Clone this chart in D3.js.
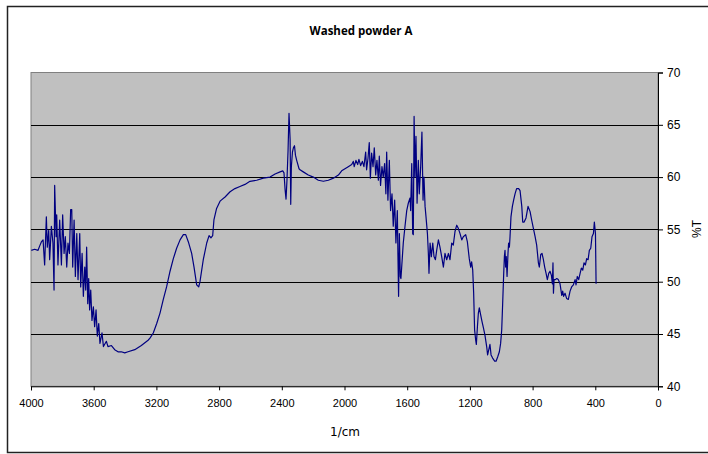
<!DOCTYPE html>
<html><head><meta charset="utf-8">
<script src="https://cdn.jsdelivr.net/npm/d3@7/dist/d3.min.js"></script>
<style>body{margin:0;background:#fff}svg{display:block}</style>
</head><body>
<svg id="c" width="708" height="454"></svg>
<script>
const title = "Washed powder A";
const xLabel = "1/cm";
const yLabel = "%T";
const xTicks = [4000,3600,3200,2800,2400,2000,1600,1200,800,400,0];
const yTicks = [40,45,50,55,60,65,70];
const wavenumber = [3998,3977,3955,3945,3934,3923,3913,3902,3896,3887,3881,3870,3860,3853,3849,3840,3836,3828,3817,3806,3798,3789,3781,3772,3764,3755,3747,3740,3734,3725,3717,3708,3700,3689,3683,3674,3666,3657,3651,3645,3638,3632,3626,3619,3611,3602,3594,3585,3577,3568,3560,3547,3538,3519,3509,3487,3466,3445,3424,3402,3381,3338,3296,3253,
3241,3220,3198,3177,3156,3135,3113,3092,3071,3049,3028,3013,2996,2975,2960,2943,2930,2922,2901,2879,2864,2852,2841,2833,2816,2794,2762,2730,2699,2667,2635,2603,2560,2518,2475,2443,2411,2394,2386,2379,2373,2367,2360,2354,2347,2343,2339,2332,2326,2319,2313,2305,2290,
2284,2263,2231,2199,2167,2135,2103,2071,2039,2018,1997,1976,1954,1944,1938,1927,1916,1908,1897,1886,1876,1865,1859,1850,1842,1835,1827,1818,1810,1801,1793,1784,1778,1770,1761,1753,1744,1736,1731,1723,1714,1706,1697,1689,1680,1672,1663,1659,1655,1650,1644,1640,1625,1614,1603,1593,1582,1578,1571,1565,1561,1556,1550,1544,1537,1529,1523,1514,1506,1499,1493,1486,1480,1471,1465,1461,1454,1446,1437,1429,1420,1412,1401,
1391,1380,1369,1359,1348,1337,1327,1316,1306,1295,1284,1274,1263,1252,1242,1227,1216,1204,1195,1189,1182,1176,1170,1163,1159,1152,1146,1140,1131,1123,1114,1104,1093,1087,1078,1072,1065,1055,1042,1033,1023,1012,1004,997,991,985,980,976,972,968,963,957,953,948,944,938,929,921,912,902,889,880,
869,863,854,842,829,816,806,795,784,774,763,757,748,740,731,723,714,706,697,689,680,674,670,667,663,655,646,636,625,614,608,602,593,583,572,561,551,540,529,523,515,506,497,489,480,472,463,455,446,438,429,421,412,406,399,395];
const transmittance = [53.0,53.1,53.0,53.4,53.8,54.0,51.6,56.2,53.3,54.9,52.1,55.3,53.7,49.2,59.2,54.3,56.4,51.6,55.9,51.6,56.4,52.7,54.3,51.4,53.7,52.7,56.9,56.9,51.4,55.9,50.5,54.6,50.2,54.6,49.5,52.7,48.6,51.4,49.2,53.3,47.9,50.3,47.3,49.2,46.3,47.6,45.7,47.3,44.8,46.0,44.1,45.1,43.8,44.3,43.8,43.9,43.5,43.3,43.3,43.2,43.3,43.5,43.9,44.4,
44.6,45.1,46.0,47.0,48.3,49.5,51.0,52.2,53.2,54.0,54.5,54.5,53.8,52.7,51.4,49.7,49.5,50.0,52.1,53.7,54.4,54.2,54.4,55.9,57.0,57.7,58.1,58.6,58.9,59.1,59.3,59.6,59.7,59.9,60.0,60.3,60.5,60.6,60.4,58.8,57.9,59.7,62.6,66.1,63.6,57.4,61.0,62.4,62.8,63.0,62.1,61.6,60.8,
60.7,60.5,60.2,60.0,59.7,59.6,59.7,59.9,60.2,60.6,60.8,61.0,61.2,61.5,61.0,61.6,61.2,61.7,61.1,61.5,61.0,62.4,60.7,61.8,63.3,59.9,62.3,61.0,62.8,60.2,61.6,59.7,62.0,59.2,61.0,60.0,61.3,58.4,62.4,57.8,61.6,56.8,58.4,55.3,57.8,53.7,56.8,52.4,48.6,54.6,50.5,50.3,53.7,55.3,56.8,57.5,58.0,56.8,61.3,54.6,54.5,65.8,60.0,63.9,57.5,61.6,58.4,61.0,64.3,57.8,60.0,57.2,56.2,54.6,52.7,50.8,53.7,52.4,53.7,52.4,52.1,53.0,54.0,
53.3,52.4,51.4,52.7,52.1,52.7,52.1,53.7,53.5,54.8,55.4,55.1,54.6,54.0,54.3,54.5,53.8,52.2,51.4,51.9,51.1,48.9,45.4,44.4,44.0,45.7,47.0,47.5,46.8,46.2,45.6,44.9,43.8,43.0,43.6,44.0,43.0,42.7,42.4,42.4,42.8,43.3,44.1,45.4,47.9,50.5,52.4,53.0,51.4,52.4,50.5,52.7,53.7,53.3,54.3,56.2,57.2,57.8,58.4,58.9,58.9,58.7,
57.2,55.7,55.7,56.1,57.2,56.7,55.9,55.1,54.3,53.5,51.8,51.4,52.6,52.7,52.1,51.4,50.8,50.2,50.8,51.0,50.6,49.8,51.8,48.9,50.2,50.2,50.3,50.2,49.8,48.7,49.1,48.6,48.9,48.4,48.3,49.1,49.5,49.7,50.2,49.7,50.5,50.2,50.8,51.3,51.1,51.8,51.6,52.2,52.1,53.0,53.2,54.3,54.6,55.7,54.6,49.8];

const svg = d3.select("#c");
const font = "'Liberation Sans', Arial, sans-serif";
// outer frame
svg.append("rect").attr("x",7.5).attr("y",6.5).attr("width",720).attr("height",446)
  .attr("fill","#fff").attr("stroke","#222").attr("stroke-width",1.5);

const L=31, R=658, T=72.5, B=386.3;
const x = d3.scaleLinear().domain([4000,0]).range([L,R]);
const y = d3.scaleLinear().domain([40,70]).range([B,T]);

svg.append("rect").attr("x",L).attr("y",T).attr("width",R-L).attr("height",B-T)
  .attr("fill","#C0C0C0").attr("stroke","#808080").attr("stroke-width",1);

// gridlines
svg.append("g").selectAll("line").data(yTicks.filter(v=>v>40&&v<70)).join("line")
  .attr("x1",L).attr("x2",R).attr("y1",d=>Math.round(y(d))+0.5).attr("y2",d=>Math.round(y(d))+0.5)
  .attr("stroke","#000").attr("stroke-width",1);

// data line
const pts = wavenumber.map((w,i)=>[w,transmittance[i]]);
svg.append("path").datum(pts)
  .attr("d", d3.line().x(d=>x(d[0])).y(d=>y(d[1])))
  .attr("fill","none").attr("stroke","#000080").attr("stroke-width",1.2).attr("stroke-linejoin","round");

// right axis
const ya = svg.append("g").attr("transform",`translate(${R},0)`)
  .call(d3.axisRight(y).tickValues(yTicks).tickSize(5).tickPadding(4).tickFormat(d3.format("d")));
ya.select(".domain").attr("stroke","#000");
ya.selectAll("text").attr("font-family",font).attr("font-size",12).attr("fill","#000");

// bottom axis
const xa = svg.append("g").attr("transform",`translate(0,${B})`)
  .call(d3.axisBottom(x).tickValues(xTicks).tickSize(4).tickPadding(9).tickFormat(d3.format("d")));
xa.select(".domain").attr("stroke","#000");
xa.selectAll("text").attr("font-family",font).attr("font-size",11).attr("fill","#000");

svg.append("text").attr("x",361).attr("y",35).attr("text-anchor","middle")
  .attr("font-family","'Open Sans', sans-serif").attr("font-weight","bold").attr("font-size",11.5).text(title);
svg.append("text").attr("x",345).attr("y",436).attr("text-anchor","middle")
  .attr("font-family","'DejaVu Sans', sans-serif").attr("font-size",12).text(xLabel);
svg.append("text").attr("transform","translate(701,229) rotate(-90)").attr("text-anchor","middle")
  .attr("font-family",font).attr("font-size",12).text(yLabel);
</script>
</body></html>
